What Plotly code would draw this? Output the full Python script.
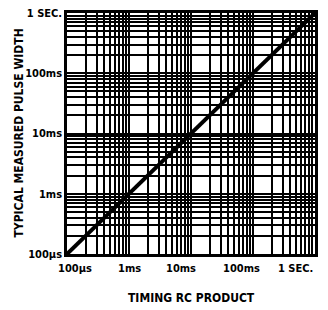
import plotly.graph_objects as go

rc_product = [1e-4, 1e-3, 1e-2, 1e-1, 1.0]
pulse_width = [1e-4, 1e-3, 1e-2, 1e-1, 1.0]
tick_vals = [1e-4, 1e-3, 1e-2, 1e-1, 1.0]
x_tick_text = ["100\u00b5s", "1ms", "10ms", "100ms", "1 SEC."]
y_tick_text = ["100\u00b5s", "1ms", "10ms", "100ms", "1 SEC."]
x_label_shift = [8, 0, -10, -12, -20]

minor_vals = [m * 10 ** e for e in range(-4, 0) for m in range(2, 10)]

font_family = "DejaVu Sans Condensed, Liberation Sans Narrow, Arial Narrow, sans-serif"
tick_font = dict(family=font_family, size=11, color="black")
title_font = dict(family=font_family, size=12, color="black")

fig = go.Figure()
fig.add_trace(go.Scatter(x=rc_product, y=pulse_width, mode="lines",
                         line=dict(color="black", width=4), showlegend=False))

axis_common = dict(
    type="log", range=[-4, 0], tickvals=tick_vals, automargin=False,
    showgrid=True, gridcolor="black", gridwidth=2.2,
    minor=dict(tickvals=minor_vals, showgrid=True, gridcolor="black", gridwidth=1.5, ticks=""),
    showline=True, linecolor="black", linewidth=2.5, mirror=True,
    ticks="", zeroline=False, tickfont=tick_font,
)

fig.update_xaxes(**axis_common, showticklabels=False)
fig.update_yaxes(**axis_common, ticktext=["<b>%s</b>" % t for t in y_tick_text],
                 ticklabeloverflow="allow")

for i, (t, s) in enumerate(zip(x_tick_text, x_label_shift)):
    fig.add_annotation(x=-4 + i, xref="x", y=0, yref="paper",
                       text="<b>%s</b>" % t, showarrow=False, xanchor="center",
                       yanchor="top", xshift=s, yshift=-6, font=tick_font)

fig.add_annotation(x=0.5, xref="paper", y=0, yref="paper",
                   text="<b>TIMING RC PRODUCT</b>", showarrow=False,
                   xanchor="center", yanchor="middle", yshift=-44, font=title_font)
fig.add_annotation(x=0, xref="paper", y=0.5, yref="paper",
                   text="<b>TYPICAL MEASURED PULSE WIDTH</b>", showarrow=False,
                   textangle=-90, xanchor="center", yanchor="middle", xshift=-49,
                   font=title_font)

fig.update_layout(
    width=320, height=302,
    margin=dict(l=59, r=13, t=5, b=56),
    paper_bgcolor="white", plot_bgcolor="white",
)

fig.write_html("out.html")
